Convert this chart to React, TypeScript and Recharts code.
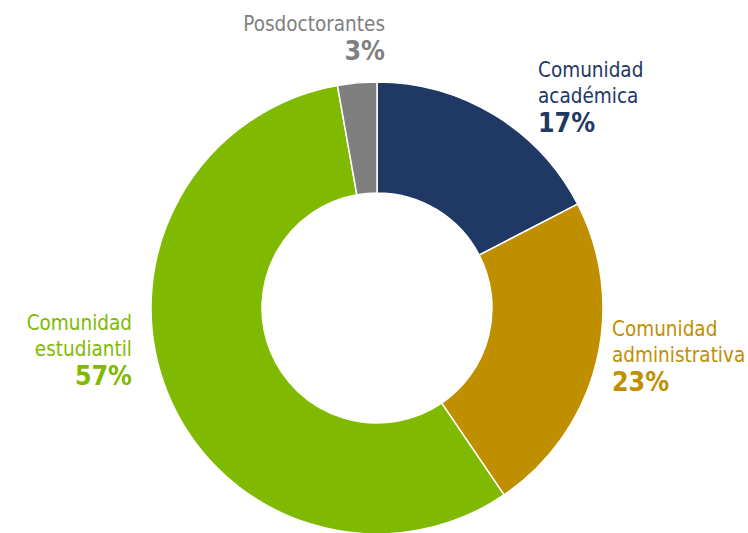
import { PieChart, Pie, Cell } from 'recharts';

const groups = ['Comunidad académica', 'Comunidad administrativa', 'Comunidad estudiantil', 'Posdoctorantes'];
// slice sizes; labels show the published rounded figures
const shares = [17.4, 23.1, 56.7, 2.8];
const shareLabels = ['17%', '23%', '57%', '3%'];
const colors = ['#1F3864', '#BF8F00', '#7FBA00', '#7F7F7F'];
const labelLines = [
  ['Comunidad', 'académica'],
  ['Comunidad', 'administrativa'],
  ['Comunidad', 'estudiantil'],
  ['Posdoctorantes'],
];

// label anchor relative to pie center: x, baseline of first line, text-anchor
const labelPlace: { dx: number; dy: number; anchor: 'start' | 'end' }[] = [
  { dx: 161, dy: -231, anchor: 'start' },
  { dx: 235, dy: 28, anchor: 'start' },
  { dx: -245, dy: 22, anchor: 'end' },
  { dx: 8, dy: -277, anchor: 'end' },
];

const data = groups.map((name, i) => ({ name, value: shares[i] }));

const FONT = '"DejaVu Sans Condensed", "DejaVu Sans", sans-serif';

function renderLabel(props: any) {
  const { cx, cy, index } = props;
  const p = labelPlace[index];
  const lines = labelLines[index];
  const x = cx + p.dx;
  const y = cy + p.dy;
  return (
    <text x={x} y={y} textAnchor={p.anchor} fill={colors[index]} fontFamily={FONT}>
      {lines.map((l, k) => (
        <tspan key={k} x={x} dy={k === 0 ? 0 : 26} fontSize={20.5}>
          {l}
        </tspan>
      ))}
      <tspan x={x} dy={29} fontSize={26.5} fontWeight="bold">
        {shareLabels[index]}
      </tspan>
    </text>
  );
}

export default function App() {
  return (
    <div style={{ position: 'absolute', left: 0, top: 0, width: 748, height: 533, background: '#fff' }}>
      <PieChart width={748} height={533} margin={{ top: 0, right: 0, bottom: 0, left: 0 }}>
        <Pie
          data={data}
          dataKey="value"
          nameKey="name"
          cx={377}
          cy={308}
          innerRadius={115}
          outerRadius={226}
          startAngle={90}
          endAngle={-270}
          stroke="#fff"
          strokeWidth={1.5}
          label={renderLabel}
          labelLine={false}
          isAnimationActive={false}
        >
          {data.map((d, i) => (
            <Cell key={d.name} fill={colors[i]} />
          ))}
        </Pie>
      </PieChart>
    </div>
  );
}
